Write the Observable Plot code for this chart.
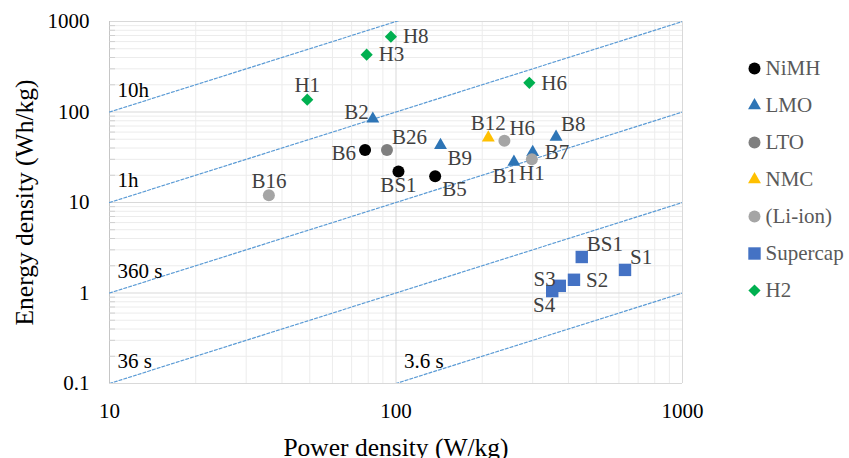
<!DOCTYPE html>
<html><head><meta charset="utf-8">
<script src="https://cdn.jsdelivr.net/npm/d3@7"></script>
<script src="https://cdn.jsdelivr.net/npm/@observablehq/plot@0.6"></script>
<style>
body{margin:0;background:#fff;}
#wrap{position:relative;width:849px;height:458px;font-family:"Liberation Serif","Times New Roman",serif;}
#wrap svg, #wrap svg text{font-family:"Liberation Serif","Times New Roman",serif !important;}
#chart{position:absolute;left:0;top:0;}
#legend{position:absolute;left:730px;top:0;}
</style></head><body><div id="wrap"><div id="chart"></div><div id="legend"></div></div>
<script>
// ---- data ----
const series = ["NiMH", "LMO", "LTO", "NMC", "(Li-ion)", "Supercap", "H2"];
const seriesColors = ["#000000", "#2E75B6", "#7F7F7F", "#FFC000", "#A5A5A5", "#4472C4", "#00B050"];
const seriesSymbols = ["circle", "triangle", "circle", "triangle", "circle", "square", "diamond2"];

const pointNames   = ["H8", "H3", "H1", "H6", "B2", "B6", "B26", "B9", "BS1", "B5", "B12", "H6", "B8", "B7", "H1", "B1", "B16", "BS1", "S1", "S2", "S3", "S4"];
const pointSeries  = ["H2", "H2", "H2", "H2", "LMO", "NiMH", "LTO", "LMO", "NiMH", "NiMH", "NMC", "(Li-ion)", "LMO", "LMO", "(Li-ion)", "LMO", "(Li-ion)", "Supercap", "Supercap", "Supercap", "Supercap", "Supercap"];
const powerDensity = [96, 79, 49, 292, 83, 78, 93, 143, 102, 137, 210, 239, 362, 300, 298, 258, 36, 445, 630, 418, 373, 351];
const energyDensity= [680, 430, 137, 210, 84, 38, 38, 43, 22, 19.5, 52, 48, 53, 36, 30, 28, 12, 2.5, 1.8, 1.4, 1.2, 1.05];
const labelPlacement = ["r", "r", "t", "r", "tl", "l", "tr", "br", "b", "br", "t", "tr", "tr", "r", "b", "bl", "t", "tr", "tr", "r", "tl", "bl"];

const xTicks = [10, 100, 1000];
const yTicks = [0.1, 1, 10, 100, 1000];
const refHours = [10, 1, 0.1, 0.01, 0.001];
const refLabels = ["10h", "1h", "360 s", "36 s", "3.6 s"];

// ---- build ----
const symbolR = {circle: 6, triangle: 4.8, square: 7, diamond2: 5.5};
const placeStyle = {
  r:  {textAnchor: "start",  dx: 12, dy: 0},
  l:  {textAnchor: "end",    dx: -9, dy: 3},
  tl: {textAnchor: "end",    dx: -4, dy: -7},
  tr: {textAnchor: "start",  dx: 5,  dy: -13},
  t:  {textAnchor: "middle", dx: 0,  dy: -14},
  b:  {textAnchor: "middle", dx: 0,  dy: 14},
  br: {textAnchor: "start",  dx: 7,  dy: 13},
  bl: {textAnchor: "end",    dx: 3,  dy: 14}
};

const points = pointNames.map((name, i) => ({
  name, series: pointSeries[i], P: powerDensity[i], E: energyDensity[i], place: labelPlacement[i]
}));

const xDomain = [xTicks[0], xTicks[xTicks.length - 1]];
const yDomain = [yTicks[0], yTicks[yTicks.length - 1]];
const minorX = d3.scaleLog().domain(xDomain).ticks().filter(v => !xTicks.includes(v));
const minorY = d3.scaleLog().domain(yDomain).ticks().filter(v => !yTicks.some(t => Math.abs(t - v) < 1e-9));

const refLines = refHours.flatMap((h, i) => [
  {h: refLabels[i], P: xDomain[0], E: xDomain[0] * h},
  {h: refLabels[i], P: xDomain[1], E: xDomain[1] * h}
]);
const refStarts = refHours.map((h, i) => {
  const P0 = Math.max(xDomain[0], yDomain[0] / h);
  return {label: refLabels[i], P: P0, E: P0 * h};
});

const colorScale = {domain: series, range: seriesColors};
const serif = '"Liberation Serif","Times New Roman",serif';

const chart = Plot.plot({
  width: 849, height: 458,
  marginLeft: 109, marginRight: 167, marginTop: 21, marginBottom: 75,
  style: {fontFamily: serif, fontSize: "21px", color: "#000", background: "white", overflow: "visible"},
  x: {type: "log", domain: xDomain},
  y: {type: "log", domain: yDomain},
  color: colorScale,
  marks: [
    Plot.gridX(minorX, {stroke: "#ececec", strokeOpacity: 1}),
    Plot.gridY(minorY, {stroke: "#ececec", strokeOpacity: 1}),
    Plot.gridX(xTicks, {stroke: "#d9d9d9", strokeOpacity: 1}),
    Plot.gridY(yTicks, {stroke: "#d9d9d9", strokeOpacity: 1}),
    Plot.ruleX([xDomain[0]], {stroke: "#c6c6c6"}),
    Plot.axisY(minorY, {tickSize: -6, tickFormat: () => "", stroke: "#d0d0d0", label: null}),
    Plot.line(refLines, {x: "P", y: "E", z: "h", stroke: "#5B9BD5", strokeWidth: 1.2, strokeDasharray: "3,2", clip: true}),
    Plot.text(refStarts, {x: "P", y: "E", text: "label", dx: 8, dy: -22, textAnchor: "start", fill: "#000", fontSize: 21}),
    ...series.map((s, i) => Plot.dot(points.filter(d => d.series === s), {
      x: "P", y: "E", fill: "series", symbol: seriesSymbols[i], r: symbolR[seriesSymbols[i]], stroke: "none"
    })),
    ...Object.entries(placeStyle).map(([k, st]) => Plot.text(points.filter(d => d.place === k), {
      x: "P", y: "E", text: "name", fill: "#404040", fontSize: 21, ...st
    })),
    Plot.axisX({ticks: xTicks, tickSize: 0, tickPadding: 20, tickFormat: d => String(d), label: null, fontSize: 21, fill: "#000"}),
    Plot.axisY({ticks: yTicks, tickSize: 0, tickPadding: 20, tickFormat: d => String(+d.toPrecision(3)), label: null, fontSize: 21, fill: "#000"}),
    Plot.text(["Power density (W/kg)"], {text: d => d, frameAnchor: "bottom", textAnchor: "middle", lineAnchor: "middle", dy: 64, fontSize: 25.5, fill: "#000"}),
    Plot.text(["Energy density (Wh/kg)"], {text: d => d, frameAnchor: "left", textAnchor: "middle", lineAnchor: "middle", dx: -85, rotate: -90, fontSize: 25.5, fill: "#000"})
  ]
});
document.getElementById("chart").append(chart);

const legend = Plot.plot({
  width: 119, height: 340, margin: 0,
  style: {fontFamily: serif, fontSize: "21px", background: "transparent", overflow: "visible"},
  x: {domain: [0, 1], range: [24, 100], axis: null},
  y: {type: "point", domain: series, range: [46.7, 311.7], axis: null},
  color: colorScale,
  marks: [
    ...series.map((s, i) => Plot.dot([s], {x: () => 0, y: d => d, fill: d => d, symbol: seriesSymbols[i], r: symbolR[seriesSymbols[i]], stroke: "none"})),
    Plot.text(series, {x: () => 0, y: d => d, text: d => d, dx: 11, textAnchor: "start", fill: "#595959", fontSize: 21})
  ]
});
document.getElementById("legend").append(legend);
</script></body></html>
